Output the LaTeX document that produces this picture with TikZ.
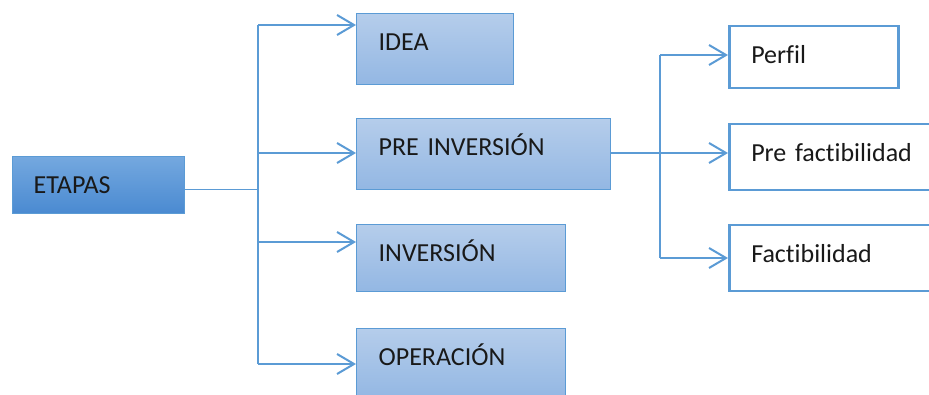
\documentclass[tikz,border=0pt]{standalone}
\usepackage{fontspec}
\setmainfont{Carlito}[Ligatures={NoCommon}]
\usetikzlibrary{arrows.meta,calc}
\definecolor{ln}{HTML}{5B9BD5}
\definecolor{lt}{HTML}{B5CDEB}
\definecolor{lb}{HTML}{93B7E3}
\definecolor{dt}{HTML}{74A8DF}
\definecolor{db}{HTML}{4A8AD1}
\begin{document}
\begin{tikzpicture}[x=1pt,y=-1pt,
  base/.style={anchor=north west, inner ysep=0pt, inner xsep=22pt, align=left,
    text height=37pt, font=\fontsize{26pt}{30pt}\selectfont, text=black!90},
  lightbox/.style={base, draw=ln, line width=1.3pt, top color=lt, bottom color=lb},
  darkbox/.style={base, draw=ln, line width=1.3pt, top color=dt, bottom color=db},
  whitebox/.style={base, draw=ln, line width=2.5pt, fill=white},
  conn/.style={draw=ln, line width=#1},
  arr/.style={draw=ln, line width=2pt, -{Straight Barb[length=17pt,width=20pt]}}]
\useasboundingbox (0,0) rectangle (929,395);
\fill[white] (0,0) rectangle (929,395);

\node[darkbox, inner xsep=21pt, text width=130pt, text depth=20pt] (etapas) at (12,156) {ETAPAS};
\node[lightbox, text width=113pt, text depth=34pt] (idea) at (356,13) {IDEA};
\node[lightbox, text width=210pt, text depth=34pt] (pre) at (356,118) {PRE INVERSIÓN};
\node[lightbox, text width=165pt, text depth=30pt] (inv) at (356,224) {INVERSIÓN};
\node[lightbox, text width=165pt, text depth=33pt] (oper) at (356,328) {OPERACIÓN};
\node[whitebox, text width=125pt, text depth=25pt] (perfil) at (728,25) {Perfil};
\node[whitebox, text width=170pt, text depth=29pt] (prefac) at (728,123) {Pre factibilidad};
\node[whitebox, text width=170pt, text depth=29pt] (fac) at (728,224) {Factibilidad};

% left trunk
\coordinate (j0) at (258,190);
\coordinate (t1) at (258,25);
\coordinate (t2) at (258,153);
\coordinate (t3) at (258,242);
\coordinate (t4) at (258,364);
\draw[conn=1pt] (etapas.east |- j0) -- (j0);
\draw[conn=1.6pt] (t1) -- (t4);
\draw[arr] (t1) -- (t1 -| idea.west);
\draw[arr] (t2) -- (t2 -| pre.west);
\draw[arr] (t3) -- (t3 -| inv.west);
\draw[arr] (t4) -- (t4 -| oper.west);

% right trunk
\coordinate (r1) at (660,55);
\coordinate (r2) at (660,153);
\coordinate (r3) at (660,258);
\draw[conn=1.3pt] (r1) -- (r3);
\draw[arr] (pre.east |- r2) -- (r2 -| prefac.west);
\draw[arr] (r1) -- (r1 -| perfil.west);
\draw[arr] (r3) -- (r3 -| fac.west);
\end{tikzpicture}
\end{document}
